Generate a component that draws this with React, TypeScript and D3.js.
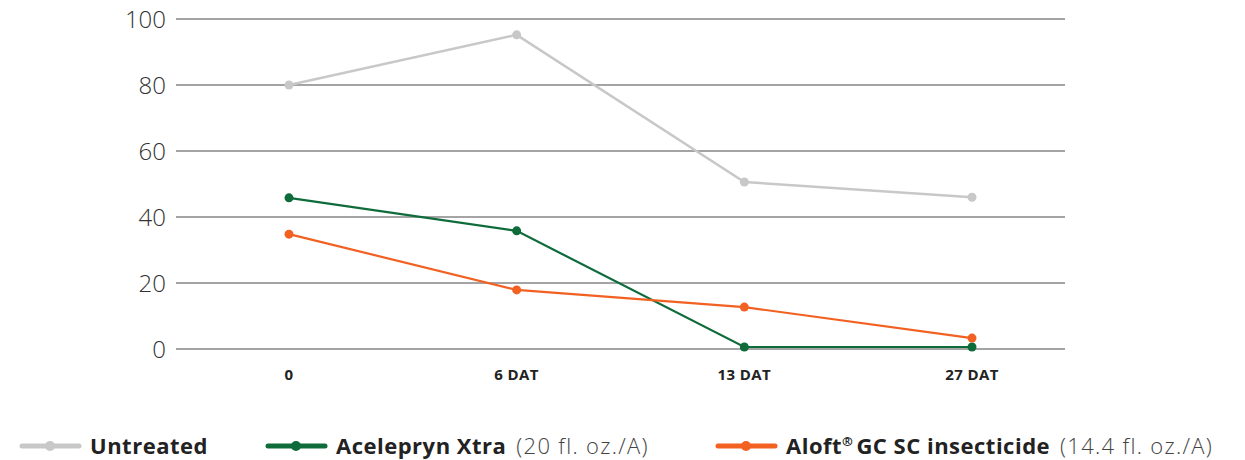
import React from "react";
import * as d3 from "d3";

const categories = ["0", "6 DAT", "13 DAT", "27 DAT"];
const yTicks = [0, 20, 40, 60, 80, 100];
const untreated = [80, 95.2, 50.6, 46];
const acelepryn = [45.8, 35.8, 0.6, 0.6];
const aloft = [34.8, 17.9, 12.7, 3.3];

const seriesList = [
  { name: "Untreated", rate: "", values: untreated, color: "#c8c8c8", width: 2.5 },
  { name: "Acelepryn Xtra", rate: "(20 fl. oz./A)", values: acelepryn, color: "#0e6b3a", width: 2.2 },
  { name: "Aloft® GC SC insecticide", rate: "(14.4 fl. oz./A)", values: aloft, color: "#f26122", width: 2.2 },
];

const legendX = [22, 268, 718];

function renderName(name: string) {
  const parts = name.split("®");
  if (parts.length === 1) return name;
  return (
    <>
      {parts[0]}
      <tspan fontSize={13} dy={-8}>®</tspan>
      <tspan dy={8} dx={3}>{parts[1].trimStart()}</tspan>
    </>
  );
}

export default function App() {
  const W = 1245, H = 460;
  const x = d3.scalePoint<string>().domain(categories).range([289, 972]);
  const y = d3.scaleLinear().domain([0, 100]).range([349, 19]);
  const line = d3.line<number>().x((_, i) => x(categories[i])!).y((d) => y(d));
  const font = "'Open Sans', 'Noto Sans', sans-serif";
  return (
    <svg width={W} height={H} style={{ position: "absolute", left: 0, top: 0 }} fontFamily={font}>
      {yTicks.map((t) => (
        <g key={t}>
          <line x1={176} x2={1065} y1={y(t)} y2={y(t)} stroke="#4a4a4a" strokeWidth={1.2} />
          <text x={166} y={y(t)} dy="0.36em" textAnchor="end" fontSize={24} fontWeight={300} fill="#333">
            {t}
          </text>
        </g>
      ))}
      {categories.map((c) => (
        <text key={c} x={x(c)} y={380} textAnchor="middle" fontSize={15} fontWeight={700} fill="#222" letterSpacing={0.4}>
          {c}
        </text>
      ))}
      {seriesList.map((s) => (
        <g key={s.name}>
          <path d={line(s.values)!} fill="none" stroke={s.color} strokeWidth={s.width} />
          {s.values.map((v, i) => (
            <circle key={i} cx={x(categories[i])} cy={y(v)} r={4.5} fill={s.color} />
          ))}
        </g>
      ))}
      {seriesList.map((s, i) => {
        const lx = legendX[i];
        return (
          <g key={"l" + s.name}>
            <line x1={lx} x2={lx + 57} y1={446} y2={446} stroke={s.color} strokeWidth={5} strokeLinecap="round" />
            <circle cx={lx + 28} cy={446} r={5} fill={s.color} />
            <text x={lx + 68} y={453.5} fontSize={22} fill="#222">
              <tspan fontWeight={700} letterSpacing={0.5}>{renderName(s.name)}</tspan>
              {s.rate ? (
                <tspan fontWeight={300} fill="#444" dx={10} letterSpacing={1.3}>
                  {s.rate}
                </tspan>
              ) : null}
            </text>
          </g>
        );
      })}
    </svg>
  );
}
